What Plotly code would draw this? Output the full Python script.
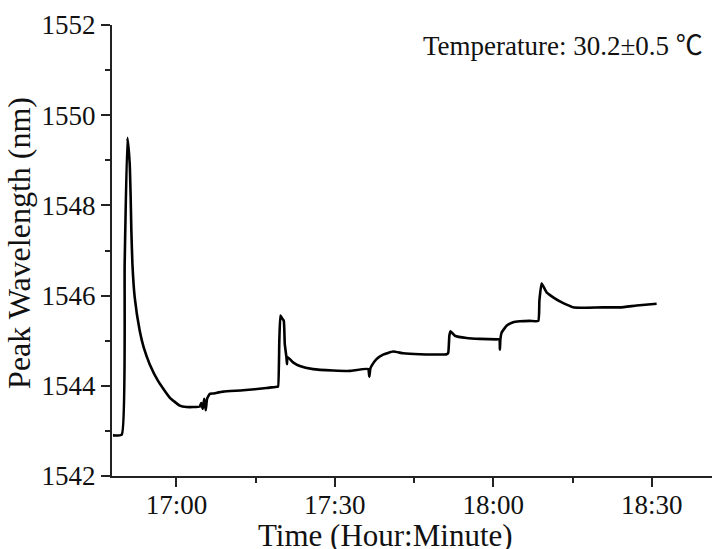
import plotly.graph_objects as go

# Time stamps (HH:MM:SS) and peak wavelength (nm)
times = [
    "16:47:59", "16:49:39", "16:50:12", "16:50:43", "16:51:09", "16:51:20",
    "16:51:28", "16:51:40", "16:52:06", "16:53:03", "16:53:48", "16:54:56",
    "16:56:31", "16:58:44", "17:00:38", "17:01:53", "17:04:25",
    "17:04:42", "17:04:59", "17:05:16", "17:05:33", "17:05:48", "17:06:19",
    "17:06:56", "17:08:50", "17:12:37", "17:17:03", "17:19:04", "17:19:15",
    "17:19:29", "17:19:42", "17:20:03", "17:20:20", "17:20:31", "17:20:50",
    "17:20:56", "17:21:02", "17:22:05", "17:23:22", "17:25:53", "17:29:40",
    "17:32:50", "17:36:18", "17:36:32", "17:36:43", "17:36:57", "17:37:53",
    "17:39:08", "17:41:02", "17:42:56", "17:46:06", "17:51:10", "17:51:28",
    "17:51:41", "17:51:55", "17:52:44", "17:54:57", "17:57:28", "18:00:38",
    "18:01:10", "18:01:15", "18:01:21", "18:01:35", "18:02:31", "18:03:46",
    "18:05:02", "18:06:56", "18:08:31", "18:08:44", "18:09:09", "18:10:06",
    "18:11:21", "18:12:37", "18:13:53", "18:15:08", "18:16:25", "18:20:50",
    "18:23:59", "18:27:09", "18:30:56",
]
wavelength = [
    1542.90, 1542.92, 1546.71, 1549.50, 1548.93, 1548.18,
    1547.44, 1546.70, 1545.96, 1545.22, 1544.85, 1544.48,
    1544.11, 1543.74, 1543.56, 1543.53, 1543.54,
    1543.62, 1543.49, 1543.71, 1543.46, 1543.71, 1543.82,
    1543.83, 1543.87, 1543.90, 1543.95, 1543.98, 1543.98,
    1545.00, 1545.56, 1545.49, 1545.44, 1544.93, 1544.63,
    1544.48, 1544.64, 1544.52, 1544.44, 1544.37, 1544.34,
    1544.33, 1544.37, 1544.20, 1544.38, 1544.44, 1544.59,
    1544.69, 1544.76, 1544.72, 1544.70, 1544.70, 1544.73,
    1545.11, 1545.21, 1545.11, 1545.06, 1545.04, 1545.03,
    1545.03, 1544.80, 1545.04, 1545.18, 1545.33, 1545.41,
    1545.43, 1545.44, 1545.44, 1545.89, 1546.27, 1546.07,
    1545.96, 1545.87, 1545.80, 1545.74, 1545.73, 1545.74,
    1545.74, 1545.78, 1545.82,
]
x_tick_labels = ["17:00", "17:30", "18:00", "18:30"]
y_ticks = [1542, 1544, 1546, 1548, 1550, 1552]

DAY = "2020-01-01 "
x_dt = [DAY + t for t in times]
x_tickvals = [DAY + t + ":00" for t in x_tick_labels]

FONT = "Liberation Serif, Times New Roman, serif"
INK = "#111111"

fig = go.Figure()
fig.add_trace(go.Scatter(
    x=x_dt, y=wavelength, mode="lines",
    line=dict(color="black", width=2.6, shape="spline", smoothing=0.4),
    showlegend=False,
))

fig.update_layout(
    width=712, height=549,
    margin=dict(l=112, r=0, t=25, b=73),
    paper_bgcolor="white", plot_bgcolor="white",
    font=dict(family=FONT, color=INK),
)

fig.update_xaxes(
    type="date",
    range=[DAY + "16:47:48", DAY + "18:41:25"],
    tickvals=x_tickvals, ticktext=x_tick_labels,
    ticks="outside", ticklen=9, tickwidth=2, tickcolor="#222",
    ticklabelstandoff=-5,
    showline=True, linewidth=2, linecolor="#222", mirror=False,
    showgrid=False, zeroline=False,
    tickfont=dict(family=FONT, size=27, color=INK),
    minor=dict(tickvals=[DAY + "17:15:00", DAY + "17:45:00", DAY + "18:15:00"],
               ticks="outside", ticklen=5, tickwidth=2, tickcolor="#222", showgrid=False),
)
fig.update_yaxes(
    range=[1542, 1552],
    tickvals=y_ticks,
    ticks="outside", ticklen=9, tickwidth=2, tickcolor="#222",
    showline=True, linewidth=2, linecolor="#222", mirror=False,
    showgrid=False, zeroline=False,
    tickfont=dict(family=FONT, size=27, color=INK),
    minor=dict(dtick=1, ticks="outside", ticklen=5, tickwidth=2, tickcolor="#222", showgrid=False),
)

fig.add_annotation(
    text="Time (Hour:Minute)", xref="paper", yref="paper",
    x=0.456, y=-0.131, xanchor="center", yanchor="middle",
    showarrow=False, font=dict(family=FONT, size=31, color=INK),
)
fig.add_annotation(
    text="Peak Wavelength (nm)", xref="paper", yref="paper",
    x=-0.154, y=0.516, xanchor="center", yanchor="middle", textangle=-90,
    showarrow=False, font=dict(family=FONT, size=32, color=INK),
)
fig.add_annotation(
    text="Temperature: 30.2±0.5 ℃", xref="paper", yref="paper",
    x=0.988, y=0.953, xanchor="right", yanchor="middle",
    showarrow=False, font=dict(family="Liberation Serif, Noto Sans CJK SC, serif", size=27, color=INK),
)

fig.write_html(
    "out.html",
    config={"displayModeBar": False},
    post_script="document.body.style.margin='0';document.body.style.padding='0';",
)
